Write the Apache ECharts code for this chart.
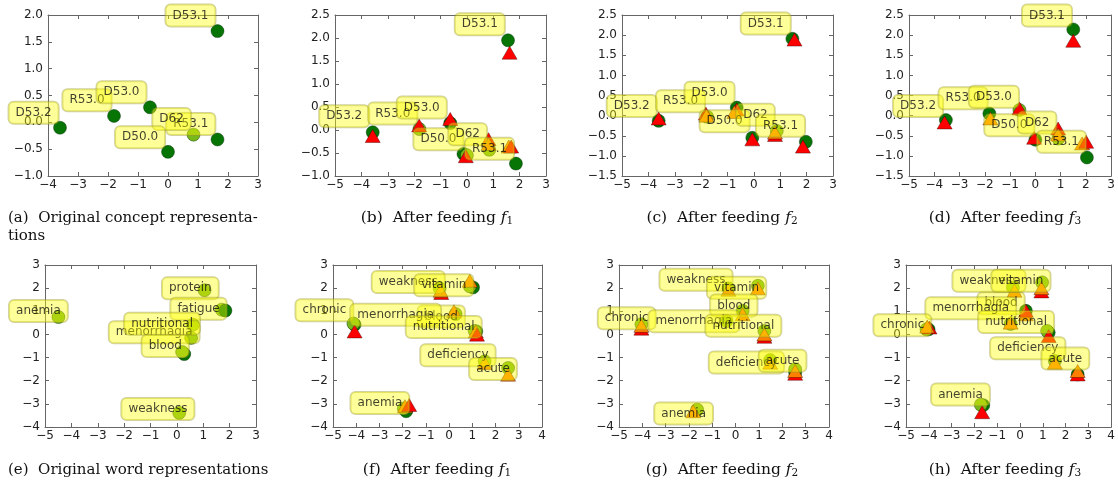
<!DOCTYPE html>
<html>
<head>
<meta charset="utf-8">
<script src="https://cdn.jsdelivr.net/npm/echarts@6/dist/echarts.min.js"></script>
<style>
html, body { margin: 0; padding: 0; background: #fff; }
#main { width: 1118px; height: 487px; }
</style>
</head>
<body>
<div id="main"></div>
<script>
// circles: [x, y, kind]  g = green, l = light green
// triangles: [x, y, kind] r = red, o = orange
// labels: [text, x, y]  (centre of the yellow box)

const aCircles = [[1.65, 1.7, 'g'], [-3.6, -0.1, 'g'], [-1.8, 0.12, 'g'], [-0.6, 0.28, 'g'], [0, -0.55, 'g'], [1.65, -0.32, 'g'], [0.85, -0.23, 'l']];
const aTriangles = [];
const aLabels = [['D53.1', 0.75, 1.99], ['D53.2', -4.48, 0.18], ['R53.0', -2.7, 0.41], ['D53.0', -1.55, 0.56], ['R53.1', 0.76, -0.03], ['D62', 0.12, 0.06], ['D50.0', -0.93, -0.28]];

const bCircles = [[1.56, 1.95, 'g'], [-3.57, -0.05, 'g'], [-1.8, 0.02, 'l'], [-0.63, 0.15, 'g'], [-0.13, -0.52, 'g'], [0.0, -0.55, 'l'], [0.85, -0.43, 'l'], [1.86, -0.73, 'g']];
const bTriangles = [[1.62, 1.68, 'r'], [-3.57, -0.13, 'r'], [-1.81, 0.1, 'r'], [-0.63, 0.24, 'r'], [-0.04, -0.57, 'r'], [0.82, -0.2, 'r'], [0.82, -0.3, 'o'], [1.59, -0.36, 'o'], [1.68, -0.36, 'r']];
const bLabels = [['D53.1', 0.49, 2.3], ['D53.2', -4.65, 0.3], ['R53.0', -2.81, 0.36], ['D53.0', -1.71, 0.49], ['D50.0', -1.08, -0.2], ['D62', 0.03, -0.09], ['R53.1', 0.86, -0.41]];

const cCircles = [[1.46, 1.91, 'g'], [-3.61, -0.13, 'g'], [-1.77, -0.03, 'l'], [-0.65, 0.2, 'g'], [-0.06, -0.55, 'g'], [0.87, -0.38, 'l'], [1.97, -0.65, 'g']];
const cTriangles = [[1.54, 1.89, 'r'], [-3.61, -0.07, 'r'], [-1.82, 0.05, 'r'], [-1.8, 0.0, 'o'], [-0.65, 0.15, 'r'], [-0.74, 0.09, 'o'], [-0.06, -0.59, 'r'], [0.8, -0.48, 'r'], [0.8, -0.42, 'o'], [1.86, -0.77, 'r']];
const cLabels = [['D53.1', 0.45, 2.29], ['D53.2', -4.63, 0.24], ['R53.0', -2.78, 0.36], ['D53.0', -1.68, 0.57], ['D50.0', -1.11, -0.14], ['D62', 0.06, 0.02], ['R53.1', 1.01, -0.25]];

const dCircles = [[1.5, 2.14, 'g'], [-3.54, -0.11, 'g'], [-1.82, 0.05, 'g'], [-0.63, 0.14, 'l'], [0.0, -0.6, 'g'], [0.91, -0.57, 'l'], [2.04, -1.04, 'g']];
const dTriangles = [[1.5, 1.86, 'r'], [-3.59, -0.17, 'r'], [-1.78, -0.07, 'o'], [-0.63, 0.18, 'r'], [-0.05, -0.55, 'r'], [0.9, -0.32, 'r'], [0.9, -0.47, 'o'], [1.85, -0.69, 'o'], [2.01, -0.65, 'r']];
const dLabels = [['D53.1', 0.46, 2.49], ['D53.2', -4.64, 0.24], ['R53.0', -2.86, 0.43], ['D53.0', -1.64, 0.47], ['D50.0', -1.03, -0.24], ['D62', 0.07, -0.17], ['R53.1', 1.03, -0.65]];

const eCircles = [[-4.49, 0.75, 'l'], [1.05, 1.91, 'l'], [1.7, 1.07, 'l'], [1.84, 1.03, 'g'], [0.61, 0.42, 'l'], [0.54, -0.15, 'l'], [0.28, -0.85, 'g'], [0.2, -0.76, 'l'], [0.09, -3.39, 'l']];
const eTriangles = [];
const eLabels = [['anemia', -5.25, 1.01], ['protein', 0.51, 1.99], ['fatigue', 0.82, 1.11], ['menorrhagia', -0.86, 0.09], ['nutritional', -0.56, 0.46], ['blood', -0.44, -0.5], ['weakness', -0.72, -3.22]];

const fCircles = [[-0.41, 2.0, 'l'], [1.03, 2.03, 'g'], [0.89, 2.08, 'l'], [-4.07, 0.42, 'g'], [-4.12, 0.47, 'l'], [0.28, 0.88, 'l'], [1.17, 0.13, 'g'], [1.1, 0.15, 'l'], [1.53, -1.16, 'l'], [2.54, -1.45, 'l'], [-1.85, -3.32, 'g'], [-1.95, -3.2, 'l']];
const fTriangles = [[-0.34, 1.79, 'r'], [-0.37, 1.89, 'o'], [0.89, 2.32, 'o'], [-4.07, 0.13, 'r'], [0.21, 1.0, 'o'], [1.15, 0.13, 'o'], [1.2, -0.01, 'r'], [1.53, -1.23, 'o'], [2.54, -1.74, 'o'], [-1.9, -3.1, 'o'], [-1.72, -3.05, 'r']];
const fLabels = [['blood', -0.34, 0.78], ['weakness', -1.76, 2.27], ['vitamin', -0.23, 2.12], ['chronic', -5.37, 1.04], ['menorrhagia', -2.3, 0.85], ['nutritional', -0.23, 0.32], ['deficiency', 0.38, -0.9], ['acute', 1.89, -1.49], ['anemia', -2.98, -2.96]];

const gCircles = [[-0.31, 1.99, 'l'], [0.95, 2.1, 'l'], [0.3, 1.02, 'l'], [-4.04, 0.44, 'l'], [-0.39, 0.58, 'l'], [1.23, 0.15, 'l'], [1.48, -1.11, 'l'], [2.55, -1.66, 'g'], [2.55, -1.51, 'l'], [-1.65, -3.25, 'l']];
const gTriangles = [[-0.31, 1.93, 'o'], [0.95, 1.99, 'o'], [0.3, 0.87, 'o'], [-4.04, 0.25, 'r'], [-4.04, 0.37, 'o'], [1.23, -0.1, 'r'], [1.23, 0.0, 'o'], [1.48, -1.22, 'o'], [2.55, -1.7, 'r'], [2.55, -1.58, 'o'], [-1.82, -3.32, 'o']];
const gLabels = [['weakness', -1.7, 2.36], ['vitamin', 0.04, 2.02], ['blood', -0.08, 1.25], ['chronic', -4.67, 0.7], ['menorrhagia', -1.79, 0.57], ['nutritional', 0.33, 0.37], ['deficiency', 0.46, -1.21], ['acute', 2.01, -1.14], ['anemia', -2.23, -3.42]];

const hCircles = [[-0.31, 2.03, 'l'], [0.97, 2.25, 'l'], [0.26, 1.02, 'g'], [-0.41, 0.45, 'l'], [-4.01, 0.22, 'g'], [-4.1, 0.22, 'l'], [1.26, 0.08, 'g'], [1.19, 0.15, 'l'], [1.53, -1.15, 'l'], [2.53, -1.73, 'g'], [-1.61, -3.06, 'g'], [-1.72, -3.04, 'l']];
const hTriangles = [[-0.24, 1.89, 'o'], [0.94, 1.86, 'r'], [0.94, 2.0, 'o'], [0.26, 0.87, 'o'], [0.26, 1.02, 'r'], [-0.41, 0.51, 'o'], [-3.97, 0.3, 'r'], [-4.07, 0.34, 'o'], [1.26, -0.07, 'r'], [1.53, -1.22, 'o'], [2.53, -1.73, 'r'], [2.53, -1.58, 'o'], [-1.66, -3.36, 'r']];
const hLabels = [['blood', -0.83, 1.35], ['weakness', -1.36, 2.32], ['vitamin', 0.04, 2.32], ['menorrhagia', -2.16, 1.13], ['chronic', -5.16, 0.4], ['nutritional', -0.17, 0.54], ['deficiency', 0.34, -0.6], ['acute', 1.99, -1.04], ['anemia', -2.61, -2.6]];

const conceptX = [-4, 3], conceptY = [-1, 2];
const conceptX2 = [-5, 3], conceptY2 = [-1, 2.5], conceptY3 = [-1.5, 2.5];
const wordX = [-5, 3], wordX2 = [-5, 4], wordY = [-4, 3];

const captions = ['(a)  Original concept representa-', '(b)  After feeding {i|f}{s|1}', '(c)  After feeding {i|f}{s|2}', '(d)  After feeding {i|f}{s|3}',
  '(e)  Original word representations', '(f)  After feeding {i|f}{s|1}', '(g)  After feeding {i|f}{s|2}', '(h)  After feeding {i|f}{s|3}'];

const panels = [
  { c: aCircles, t: aTriangles, l: aLabels, x: conceptX, y: conceptY, step: 0.5, dec: 1, rect: [48, 15, 210, 161] },
  { c: bCircles, t: bTriangles, l: bLabels, x: conceptX2, y: conceptY2, step: 0.5, dec: 1, rect: [335, 15, 211, 161] },
  { c: cCircles, t: cTriangles, l: cLabels, x: conceptX2, y: conceptY3, step: 0.5, dec: 1, rect: [622, 15, 211, 161] },
  { c: dCircles, t: dTriangles, l: dLabels, x: conceptX2, y: conceptY3, step: 0.5, dec: 1, rect: [909, 15, 208, 161] },
  { c: eCircles, t: eTriangles, l: eLabels, x: wordX, y: wordY, step: 1, dec: 0, rect: [45, 265, 211, 162] },
  { c: fCircles, t: fTriangles, l: fLabels, x: wordX2, y: wordY, step: 1, dec: 0, rect: [333, 265, 209, 162] },
  { c: gCircles, t: gTriangles, l: gLabels, x: wordX2, y: wordY, step: 1, dec: 0, rect: [619, 265, 210, 162] },
  { c: hCircles, t: hTriangles, l: hLabels, x: wordX2, y: wordY, step: 1, dec: 0, rect: [906, 265, 210, 162] }
];

const colors = { g: '#067506', l: '#78b81a', r: '#ff0000', o: '#ff8000' };
const frame = '#666';
const minus = (v, d) => v.toFixed(d).replace('-', '\u2212');

const grid = [], xAxis = [], yAxis = [], series = [];

panels.forEach((p, i) => {
  grid.push({ left: p.rect[0], top: p.rect[1], width: p.rect[2], height: p.rect[3], show: false });
  const tick = { show: true, inside: true, length: 4, lineStyle: { color: frame } };
  const line = { show: true, onZero: false, lineStyle: { color: frame, width: 1 } };
  const lbl = { color: '#222', fontFamily: 'DejaVu Sans', fontSize: 12 };
  xAxis.push(
    { gridIndex: i, type: 'value', min: p.x[0], max: p.x[1], interval: 1, position: 'bottom', axisLine: line, axisTick: tick, splitLine: { show: false },
      axisLabel: Object.assign({ margin: 3, formatter: v => minus(v, 0) }, lbl) },
    { gridIndex: i, type: 'value', min: p.x[0], max: p.x[1], interval: 1, position: 'top', axisLine: line, axisTick: tick, splitLine: { show: false }, axisLabel: { show: false } }
  );
  yAxis.push(
    { gridIndex: i, type: 'value', min: p.y[0], max: p.y[1], interval: p.step, position: 'left', axisLine: line, axisTick: tick, splitLine: { show: false },
      axisLabel: Object.assign({ margin: 5, formatter: v => minus(v, p.dec) }, lbl) },
    { gridIndex: i, type: 'value', min: p.y[0], max: p.y[1], interval: p.step, position: 'right', axisLine: line, axisTick: tick, splitLine: { show: false }, axisLabel: { show: false } }
  );
  series.push({
    type: 'scatter', xAxisIndex: 2 * i, yAxisIndex: 2 * i, symbol: 'circle', symbolSize: 13, silent: true, z: 2,
    data: p.c.map(c => ({ value: [c[0], c[1]], itemStyle: { color: colors[c[2]], opacity: 1, borderColor: 'rgba(0,40,0,0.7)', borderWidth: 0.6 } }))
  });
  series.push({
    type: 'scatter', xAxisIndex: 2 * i, yAxisIndex: 2 * i, symbol: 'triangle', symbolSize: [15, 13], silent: true, z: 3,
    data: p.t.map(t => ({ value: [t[0], t[1]], itemStyle: { color: colors[t[2]], opacity: 1, borderColor: 'rgba(60,0,0,0.7)', borderWidth: 0.6 } }))
  });
  series.push({
    type: 'scatter', xAxisIndex: 2 * i, yAxisIndex: 2 * i, symbolSize: 1, silent: true, z: 4, clip: false,
    itemStyle: { color: 'rgba(0,0,0,0)' },
    label: {
      show: true, position: 'inside', formatter: q => q.name, color: '#111', fontFamily: 'DejaVu Sans', fontSize: 12,
      backgroundColor: 'rgba(255,255,0,0.5)', borderColor: 'rgba(150,150,40,0.55)', borderWidth: 1, borderRadius: 5, padding: [5, 7]
    },
    data: p.l.map(l => ({ name: l[0], value: [l[1], l[2]] }))
  });
});

const capRich = {
  i: { fontFamily: 'DejaVu Serif', fontSize: 15.5, fontStyle: 'italic', fill: '#111' },
  s: { fontFamily: 'DejaVu Serif', fontSize: 10.5, fill: '#111', verticalAlign: 'bottom', padding: [6, 0, 0, 0] }
};
const capPos = [[8, 218, 'left', 15], [437, 218, 'center', 15.5], [722, 218, 'center', 15.5], [1005, 218, 'center', 15.5],
  [8, 470, 'left', 15], [437, 470, 'center', 15.5], [722, 470, 'center', 15.5], [1005, 470, 'center', 15.5]];
const graphic = captions.map((t, i) => ({
  type: 'text', silent: true,
  style: { text: t, x: capPos[i][0], y: capPos[i][1], align: capPos[i][2], verticalAlign: 'middle',
    fontFamily: 'DejaVu Serif', fontSize: capPos[i][3], fill: '#111', rich: capRich }
}));
graphic.push({ type: 'text', silent: true, style: { text: 'tions', x: 8, y: 236, verticalAlign: 'middle', fontFamily: 'DejaVu Serif', fontSize: 15, fill: '#111' } });

const chart = echarts.init(document.getElementById('main'));
chart.setOption({ animation: false, grid, xAxis, yAxis, series, graphic });
</script>
</body>
</html>
